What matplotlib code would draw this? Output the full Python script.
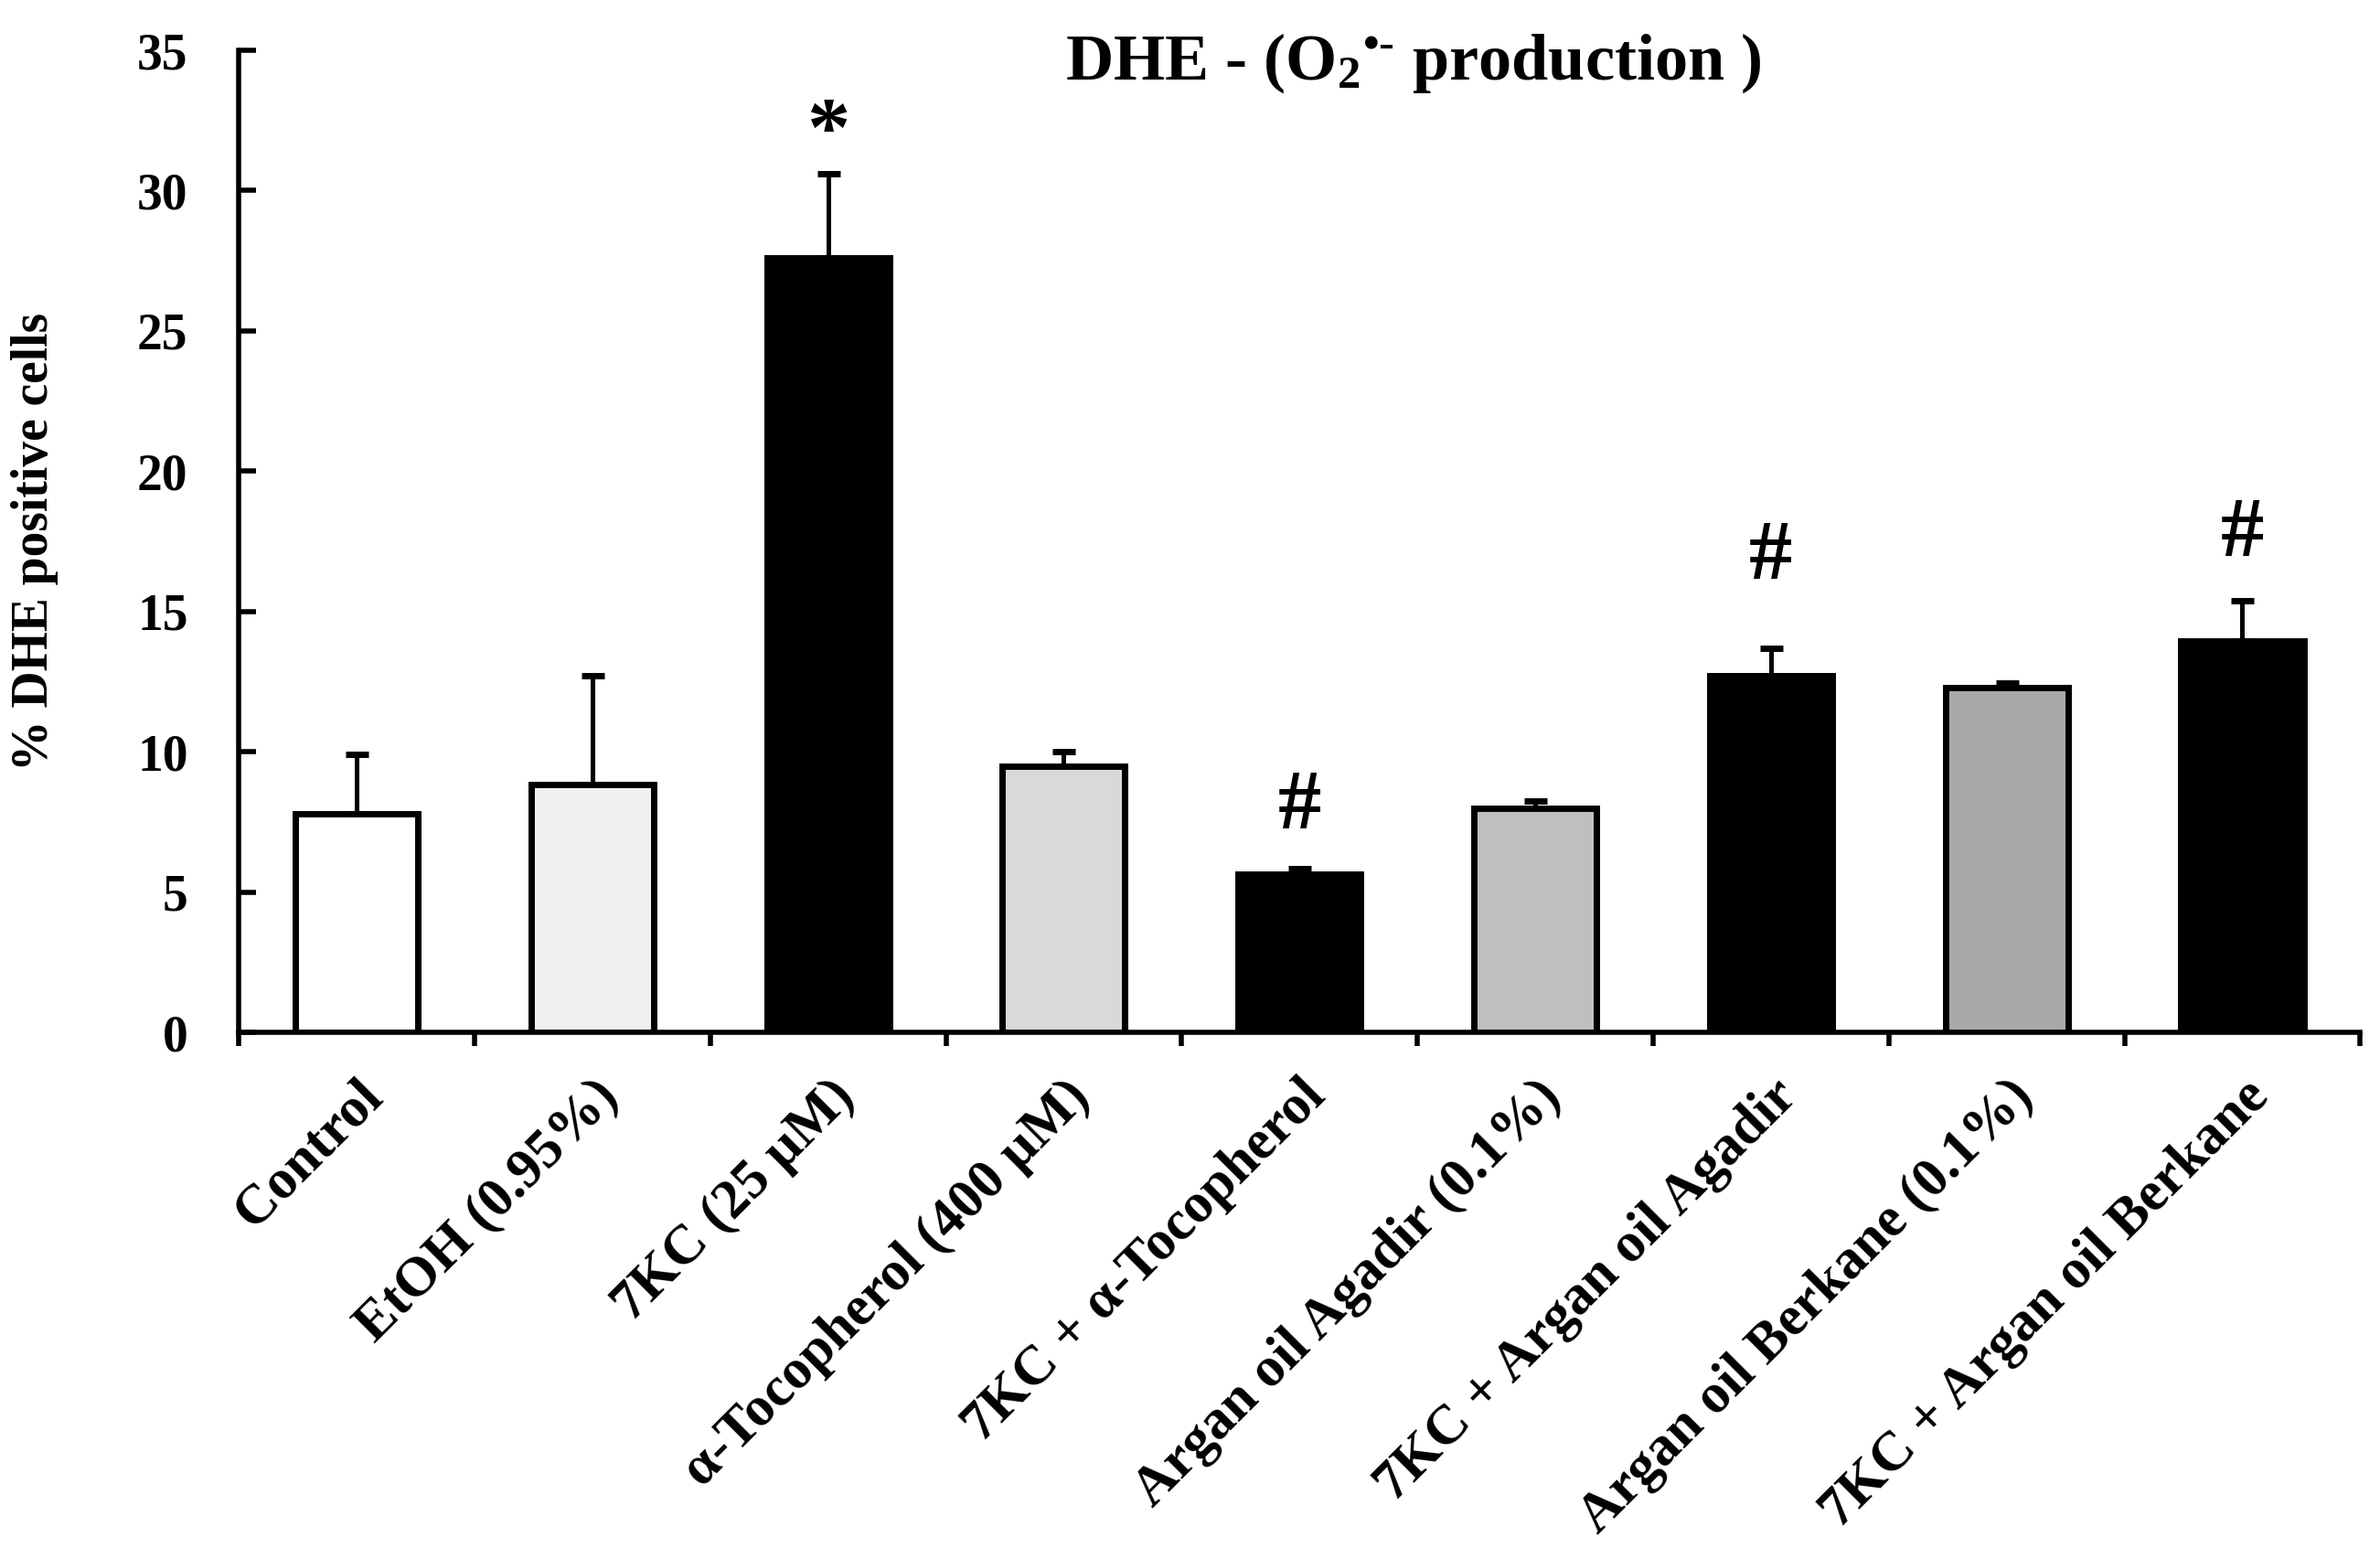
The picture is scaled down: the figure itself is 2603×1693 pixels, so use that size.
import numpy as np
import matplotlib
matplotlib.use('Agg')
import matplotlib.pyplot as plt

plt.rcParams['font.family'] = ['Liberation Serif', 'DejaVu Serif']
plt.rcParams['font.weight'] = 'bold'
plt.rcParams['mathtext.fontset'] = 'custom'
plt.rcParams['mathtext.rm'] = 'Liberation Serif:bold'
plt.rcParams['mathtext.it'] = 'Liberation Serif:bold'
plt.rcParams['mathtext.bf'] = 'Liberation Serif:bold'

groups = ['Control', 'EtOH (0.95%)', '7KC (25 µM)', 'α-Tocopherol (400 µM)',
          '7KC + α-Tocopherol', 'Argan oil Agadir (0.1%)', '7KC + Argan oil Agadir',
          'Argan oil Berkane (0.1%)', '7KC + Argan oil Berkane']
values = [7.8, 8.85, 27.6, 9.5, 5.65, 8.0, 12.7, 12.3, 13.95]
errors = [2.1, 3.85, 3.0, 0.5, 0.2, 0.25, 1.0, 0.15, 1.45]
fills = ['#ffffff', '#f0f0f0', '#000000', '#d9d9d9', '#000000',
         '#bfbfbf', '#000000', '#a9a9a9', '#000000']
marks = ['', '', '*', '', '#', '', '#', '', '#']
mark_y = [0, 0, 32.0, 0, 8.0, 0, 16.9, 0, 17.7]

fig = plt.figure(figsize=(26.03, 16.93), dpi=100)
ax = fig.add_axes([0.1003, 0.333, 0.8914, 0.6345])

x = np.arange(len(groups))
ax.bar(x, values, width=0.52, color=fills, edgecolor='black', linewidth=5, zorder=2)
ax.errorbar(x, values, yerr=[np.zeros(len(errors)), errors], fmt='none',
            ecolor='black', elinewidth=3.6, capsize=9, capthick=5, zorder=1)

for xi, m, my in zip(x, marks, mark_y):
    if m:
        ax.text(xi, my, m, ha='center', va='center', fontsize=68, fontweight='bold')

ax.set_xlim(-0.5, 8.5)
ax.set_ylim(0, 35)
ax.set_yticks(np.arange(0, 36, 5))
ax.tick_params(axis='y', direction='in', length=14, width=4, labelsize=40, pad=40)
for lab in ax.get_yticklabels():
    lab.set_fontweight('bold')

ax.set_xticks(np.arange(-0.5, 9, 1))
ax.set_xticklabels([])
ax.set_xticks(x, minor=True)
ax.set_xticklabels(groups, minor=True, rotation=45, ha='right', rotation_mode='anchor',
                   fontsize=44, fontweight='bold')
ax.tick_params(axis='x', which='major', direction='out', length=11, width=4)
ax.tick_params(axis='x', which='minor', length=0, pad=30)

for s in ['top', 'right']:
    ax.spines[s].set_visible(False)
for s in ['left', 'bottom']:
    ax.spines[s].set_linewidth(4)

ax.set_ylabel('% DHE positive cells', fontsize=40, fontweight='bold', labelpad=62)

fig.text(0.594, 0.959, r'DHE - (O$_2$$^{•\text{-}}$ production )', ha='center', va='center',
         fontsize=52, fontweight='bold')

fig.savefig('out.png', dpi=100)
